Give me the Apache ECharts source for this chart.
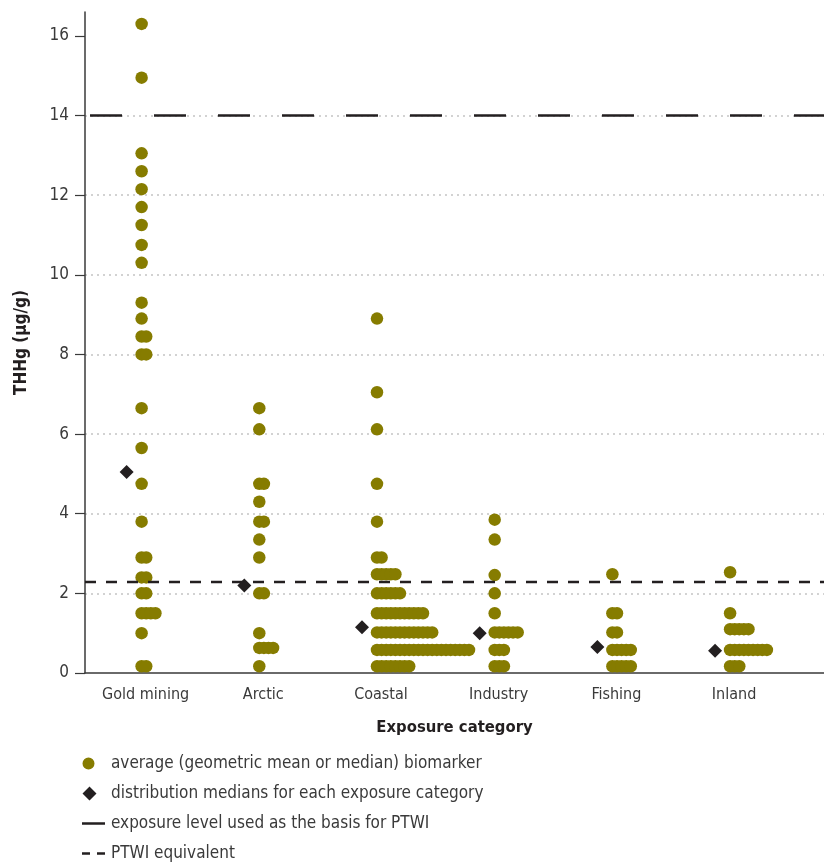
<!DOCTYPE html>
<html>
<head>
<meta charset="utf-8">
<script src="https://cdn.jsdelivr.net/npm/echarts@6/dist/echarts.min.js"></script>
<style>
html,body{margin:0;padding:0;background:#fff;}
#chart{width:824px;height:862px;}
</style>
</head>
<body>
<div id="chart"></div>
<script>
// ---- data ----
const categories = ['Gold mining', 'Arctic', 'Coastal', 'Industry', 'Fishing', 'Inland'];
const goldMining = [16.3, 14.95, 13.05, 12.6, 12.15, 11.7, 11.25, 10.75, 10.3, 9.3, 8.9, 8.45, 8.45, 8.0, 8.0,
  6.65, 5.65, 4.75, 3.8, 2.9, 2.9, 2.4, 2.4, 2.0, 2.0, 1.5, 1.5, 1.5, 1.5, 1.0, 0.17, 0.17];
const arctic = [6.65, 6.12, 4.75, 4.75, 4.3, 3.8, 3.8, 3.35, 2.9, 2.0, 2.0, 1.0, 0.63, 0.63, 0.63, 0.63, 0.17];
const coastal = [8.9, 7.05, 6.12, 4.75, 3.8, 2.9, 2.9,
  2.48, 2.48, 2.48, 2.48, 2.48,
  2.0, 2.0, 2.0, 2.0, 2.0, 2.0,
  1.5, 1.5, 1.5, 1.5, 1.5, 1.5, 1.5, 1.5, 1.5, 1.5, 1.5,
  1.02, 1.02, 1.02, 1.02, 1.02, 1.02, 1.02, 1.02, 1.02, 1.02, 1.02, 1.02, 1.02,
  0.58, 0.58, 0.58, 0.58, 0.58, 0.58, 0.58, 0.58, 0.58, 0.58, 0.58, 0.58, 0.58, 0.58, 0.58, 0.58, 0.58, 0.58, 0.58, 0.58, 0.58,
  0.17, 0.17, 0.17, 0.17, 0.17, 0.17, 0.17, 0.17];
const industry = [3.85, 3.35, 2.46, 2.0, 1.5, 1.02, 1.02, 1.02, 1.02, 1.02, 1.02, 0.58, 0.58, 0.58, 0.17, 0.17, 0.17];
const fishing = [2.48, 1.5, 1.5, 1.02, 1.02, 0.58, 0.58, 0.58, 0.58, 0.58, 0.17, 0.17, 0.17, 0.17, 0.17];
const inland = [2.53, 1.5, 1.1, 1.1, 1.1, 1.1, 1.1, 0.58, 0.58, 0.58, 0.58, 0.58, 0.58, 0.58, 0.58, 0.58, 0.17, 0.17, 0.17];
const categoryValues = [goldMining, arctic, coastal, industry, fishing, inland];
const medians = [5.05, 2.2, 1.15, 1.0, 0.65, 0.56];
const yTicks = [0, 2, 4, 6, 8, 10, 12, 14, 16];
const exposureBasis = 14;
const ptwiEquivalent = 2.3;
const legendNames = [
  'average (geometric mean or median) biomarker',
  'distribution medians for each exposure category',
  'exposure level used as the basis for PTWI',
  'PTWI equivalent'
];

// ---- styles ----
const FONT = '"Liberation Sans Narrow", "DejaVu Sans Condensed", "Roboto Condensed", sans-serif';
const OLIVE = '#867c00';
const DARK = '#231f20';
const TXT = '#3a3a3a';
const DOT_STEP = 4.6;

// build dot data: equal values in a category are stacked side by side
const dotData = [];
categoryValues.forEach((vals, ci) => {
  const seen = {};
  vals.forEach(v => {
    const k = seen[v] || 0;
    seen[v] = k + 1;
    dotData.push({ value: [ci, v], symbolOffset: [k * DOT_STEP, 0] });
  });
});
const medianData = medians.map((m, ci) => [ci, m]);

const chart = echarts.init(document.getElementById('chart'), null, { renderer: 'canvas' });
chart.setOption({
  animation: false,
  backgroundColor: '#fff',
  textStyle: { fontFamily: FONT },
  grid: { left: 85, right: 0, top: 12, bottom: 189 },
  xAxis: {
    type: 'value',
    min: -0.481,
    max: 5.798,
    name: 'Exposure category',
    nameLocation: 'middle',
    nameGap: 46,
    nameTextStyle: { fontFamily: FONT, fontSize: 16.5, fontWeight: 'bold', color: DARK },
    axisLine: { show: true, onZero: false, lineStyle: { color: TXT, width: 1.5 } },
    axisTick: { show: false },
    splitLine: { show: false },
    axisLabel: {
      customValues: categories.map((c, i) => i),
      formatter: v => categories[Math.round(v)],
      fontFamily: FONT, fontSize: 16, color: TXT, margin: 14,
      padding: [0, 0, 0, 8]
    }
  },
  yAxis: {
    type: 'value',
    min: 0,
    max: 16.6,
    interval: 2,
    name: 'THHg (µg/g)',
    nameLocation: 'middle',
    nameGap: 55,
    nameTextStyle: { fontFamily: FONT, fontSize: 17, fontWeight: 'bold', color: DARK },
    axisLine: { show: true, onZero: false, lineStyle: { color: TXT, width: 1.5 } },
    axisTick: { show: true, customValues: yTicks, length: 10, lineStyle: { color: TXT, width: 1.2 } },
    axisLabel: { customValues: yTicks, fontFamily: FONT, fontSize: 17, color: TXT, margin: 16 },
    splitLine: { show: true, showMinLine: false, showMaxLine: false,
      lineStyle: { color: '#c4c4c4', width: 1.5, type: [2, 4] } }
  },
  legend: {
    orient: 'vertical',
    left: 82,
    top: 755,
    height: 160,
    padding: 0,
    itemWidth: 24,
    itemHeight: 14,
    itemGap: 13,
    selectedMode: false,
    textStyle: { fontFamily: FONT, fontSize: 17, color: TXT, lineHeight: 16 },
    data: [
      { name: legendNames[0], icon: 'path://M1,7A6,6,0,1,0,13,7A6,6,0,1,0,1,7ZM24,0L24,14' },
      { name: legendNames[1], icon: 'path://M8,0L15,7L8,14L1,7ZM24,0L24,14' },
      { name: legendNames[2], icon: 'path://M0,5.75H23V8.25H0ZM24,0L24,14' },
      { name: legendNames[3], icon: 'path://M0,5.75H8V8.25H0ZM15,5.75H23V8.25H15ZM24,0L24,14' }
    ]
  },
  series: [
    {
      name: legendNames[0],
      type: 'scatter',
      symbol: 'circle',
      symbolSize: 12.5,
      itemStyle: { color: OLIVE, opacity: 1 },
      data: dotData,
      z: 2,
      emphasis: { disabled: true }
    },
    {
      name: legendNames[1],
      type: 'scatter',
      symbol: 'diamond',
      symbolSize: [14, 14],
      symbolOffset: [-15, 0],
      itemStyle: { color: DARK, opacity: 1 },
      data: medianData,
      z: 4,
      emphasis: { disabled: true }
    },
    {
      name: legendNames[2],
      type: 'line',
      data: [],
      itemStyle: { color: DARK },
      lineStyle: { color: DARK },
      z: 3,
      markLine: {
        silent: true,
        symbol: ['none', 'none'],
        label: { show: false },
        lineStyle: { color: DARK, width: 2.5, type: [32, 32], dashOffset: 59, opacity: 1 },
        emphasis: { disabled: true },
        data: [{ yAxis: exposureBasis }]
      }
    },
    {
      name: legendNames[3],
      type: 'line',
      data: [],
      itemStyle: { color: DARK },
      lineStyle: { color: DARK },
      z: 3,
      markLine: {
        silent: true,
        symbol: ['none', 'none'],
        label: { show: false },
        lineStyle: { color: DARK, width: 2.3, type: [11, 10], opacity: 1 },
        emphasis: { disabled: true },
        data: [{ yAxis: ptwiEquivalent }]
      }
    }
  ]
});
</script>
</body>
</html>
